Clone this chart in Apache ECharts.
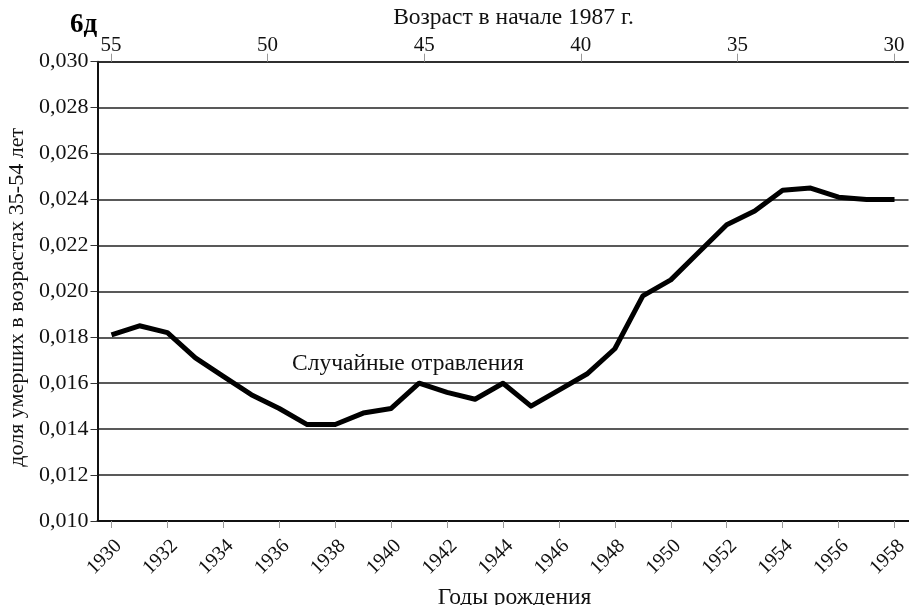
<!DOCTYPE html>
<html>
<head>
<meta charset="utf-8">
<title>6д</title>
<script src="https://cdn.jsdelivr.net/npm/echarts@6/dist/echarts.min.js"></script>
<style>
  html, body { margin: 0; padding: 0; background: #fff; }
  #chart { width: 909px; height: 605px; }
</style>
</head>
<body>
<div id="chart"></div>
<script>
// годы рождения и доля умерших (случайные отравления)
const years = [1930, 1931, 1932, 1933, 1934, 1935, 1936, 1937, 1938, 1939,
  1940, 1941, 1942, 1943, 1944, 1945, 1946, 1947, 1948, 1949,
  1950, 1951, 1952, 1953, 1954, 1955, 1956, 1957, 1958]
const share = [0.0181, 0.0185, 0.0182, 0.0171, 0.0163, 0.0155, 0.0149, 0.0142, 0.0142, 0.0147,
  0.0149, 0.0160, 0.0156, 0.0153, 0.0160, 0.0150, 0.0157, 0.0164, 0.0175, 0.0198,
  0.0205, 0.0217, 0.0229, 0.0235, 0.0244, 0.0245, 0.0241, 0.0240, 0.0240]
const yearTicks = [1930, 1932, 1934, 1936, 1938, 1940, 1942, 1944, 1946, 1948,
  1950, 1952, 1954, 1956, 1958]
const ageTicks = [30, 35, 40, 45, 50, 55]
const seriesLabel = 'Случайные отравления'

const font = '"Liberation Serif", "DejaVu Serif", serif'
const chart = echarts.init(document.getElementById('chart'))

chart.setOption({
  backgroundColor: '#fff',
  animation: false,
  textStyle: { fontFamily: font, color: '#111' },
  grid: { left: 97.5, right: 0.5, top: 61.7, bottom: 84, outerBoundsMode: 'none', containLabel: false },
  xAxis: [
    {
      type: 'value',
      position: 'bottom',
      min: 1929.5,
      max: 1958.5,
      name: 'Годы рождения',
      nameLocation: 'middle',
      nameGap: 58,
      nameTextStyle: { fontFamily: font, fontSize: 23.5, color: '#111', padding: [0, 0, 0, 23] },
      axisLine: { show: true, lineStyle: { color: '#111', width: 2 } },
      axisTick: { show: true, customValues: yearTicks, length: 7, lineStyle: { color: '#999' } },
      axisLabel: {
        customValues: yearTicks,
        rotate: 45,
        margin: 15,
        verticalAlign: 'top',
        fontFamily: font,
        fontSize: 20,
        color: '#111',
        formatter: v => String(v)
      },
      splitLine: { show: false }
    },
    {
      // возраст в начале 1987 г. (шкала сверху, справа налево)
      type: 'value',
      position: 'top',
      inverse: true,
      min: 29.54,
      max: 55.43,
      name: 'Возраст в начале 1987 г.',
      nameLocation: 'middle',
      nameGap: 26.5,
      nameTextStyle: { fontFamily: font, fontSize: 23.5, color: '#111', padding: [0, 0, 0, 21] },
      axisLine: { show: true, lineStyle: { color: '#222', width: 1.5 } },
      axisTick: { show: true, customValues: ageTicks, length: 8, lineStyle: { color: '#999' } },
      axisLabel: {
        customValues: ageTicks,
        margin: 6,
        fontFamily: font,
        fontSize: 21,
        color: '#111',
        formatter: v => String(v)
      },
      splitLine: { show: false }
    }
  ],
  yAxis: {
    type: 'value',
    min: 0.010,
    max: 0.030,
    interval: 0.002,
    name: 'доля умерших в возрастах 35-54 лет',
    nameLocation: 'middle',
    nameGap: 67,
    nameTextStyle: { fontFamily: font, fontSize: 22, color: '#111', padding: [0, 12, 0, 0] },
    axisLine: { show: true, lineStyle: { color: '#111', width: 2 } },
    axisTick: { show: true, length: 7, lineStyle: { color: '#333' } },
    axisLabel: {
      margin: 9,
      fontFamily: font,
      fontSize: 22,
      color: '#111',
      formatter: v => v.toFixed(3).replace('.', ',')
    },
    splitLine: { show: true, lineStyle: { color: '#222', width: 1.5 } }
  },
  series: [
    {
      name: seriesLabel,
      type: 'line',
      xAxisIndex: 0,
      data: years.map((y, i) => [y, share[i]]),
      symbol: 'none',
      lineStyle: { color: '#000', width: 5, join: 'round' },
      z: 5
    }
  ],
  graphic: [
    {
      type: 'text',
      left: 70,
      top: 12,
      style: { text: '6д', font: 'bold 27px ' + font, fill: '#000' }
    },
    {
      type: 'text',
      left: 292,
      top: 352,
      style: { text: seriesLabel, font: '23.5px ' + font, fill: '#111' }
    }
  ]
})
</script>
</body>
</html>
